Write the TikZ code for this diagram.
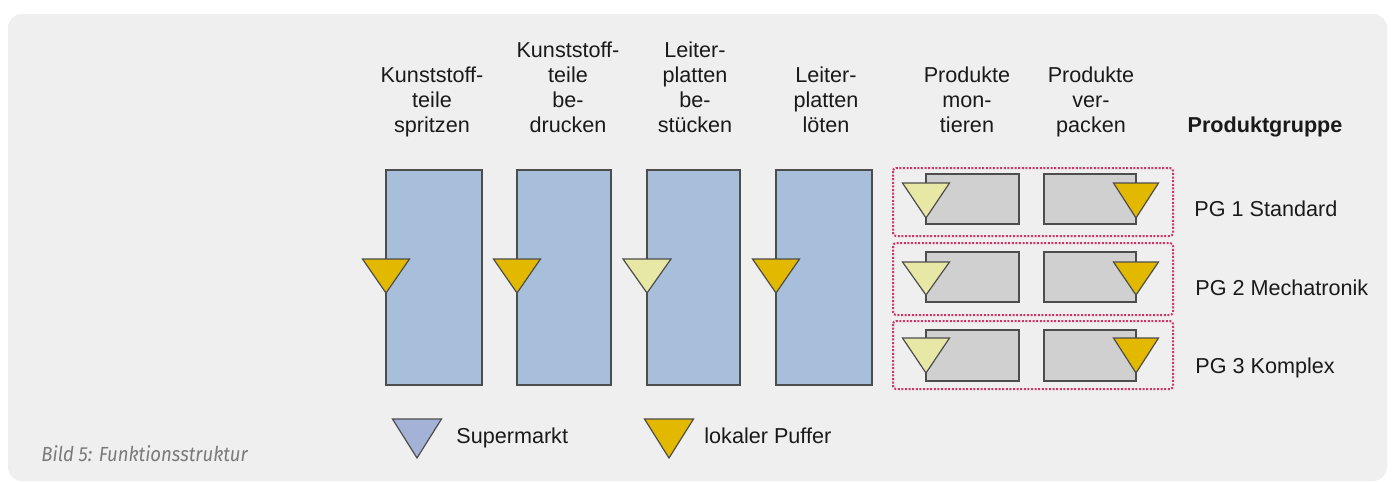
\documentclass[tikz,border=0pt]{standalone}
\usepackage{fontspec}
\setmainfont{Liberation Sans}
\newfontfamily\capfont{Fira Sans}
\definecolor{bgc}{HTML}{EFEFEF}
\definecolor{blueb}{HTML}{A7BFDA}
\definecolor{grayb}{HTML}{D0D0D0}
\definecolor{edgec}{HTML}{4D4D4D}
\definecolor{gold}{HTML}{E3B900}
\definecolor{paley}{HTML}{E8E8A6}
\definecolor{superm}{HTML}{A3B2D6}
\definecolor{dotc}{HTML}{D2336A}
\definecolor{capc}{HTML}{7A7A7A}
\definecolor{txt}{HTML}{1A1A1A}
\newcommand\buftri[5]{% fill, apex x, apex y, half width, height
  \filldraw[fill=#1, draw=edgec, line width=0.6pt, line join=miter]
    ({#2-#4},{#3-#5}) -- ({#2+#4},{#3-#5}) -- (#2,#3) -- cycle;}
\begin{document}
\begin{tikzpicture}[x=0.5pt,y=-0.5pt,
  lbl/.style={font=\fontsize{10.8}{12.5}\selectfont, text=txt, align=center, inner sep=0pt, anchor=south, text depth=2.5pt},
  pglbl/.style={font=\fontsize{10.8}{12.5}\selectfont, text=txt, inner sep=0pt, anchor=base west},
  colbox/.style={fill=blueb, draw=edgec, line width=0.7pt},
  prodbox/.style={fill=grayb, draw=edgec, line width=0.7pt},
  groupbox/.style={draw=dotc, line width=1pt, dash pattern=on 1pt off 0.8pt, rounded corners=1.5pt}]
\useasboundingbox (0,0) rectangle (1393,482);
\clip (0,0) rectangle (1393,482);
\fill[white] (0,0) rectangle (1393,482);
\fill[bgc, rounded corners=7pt] (8,14) rectangle (1387,481);

% column labels
\node[lbl] (c1) at (432,138) {Kunststoff-\\teile\\spritzen};
\node[lbl] (c2) at (568,138) {Kunststoff-\\teile\\be-\\drucken};
\node[lbl] (c3) at (695,138) {Leiter-\\platten\\be-\\stücken};
\node[lbl] (c4) at (826,138) {Leiter-\\platten\\löten};
\node[lbl] (c5) at (967,138) {Produkte\\mon-\\tieren};
\node[lbl] (c6) at (1091,138) {Produkte\\ver-\\packen};
\node[lbl, font=\fontsize{10.8}{12.5}\selectfont\bfseries] (pg) at (1265,138) {Produktgruppe};

% column boxes
\draw[colbox] (386,170) rectangle (482,385);
\draw[colbox] (517,170) rectangle (611,385);
\draw[colbox] (647,170) rectangle (740,385);
\draw[colbox] (776,170) rectangle (872,385);
\buftri{gold}{386}{293}{23.5}{34}
\buftri{gold}{517}{293}{23.5}{34}
\buftri{paley}{647}{293}{24}{34}
\buftri{gold}{776}{293}{23.5}{34}

% product groups
\draw[groupbox] (893,168) rectangle (1173,236);
\draw[groupbox] (893,243) rectangle (1173,315);
\draw[groupbox] (893,321) rectangle (1173,389);

\draw[prodbox] (926,174) rectangle (1019,224);
\draw[prodbox] (1044,174) rectangle (1136,224);
\draw[prodbox] (926,252) rectangle (1019,302);
\draw[prodbox] (1044,252) rectangle (1136,302);
\draw[prodbox] (926,330) rectangle (1019,381);
\draw[prodbox] (1044,330) rectangle (1136,381);

\buftri{paley}{926}{218}{23.5}{35}
\buftri{gold}{1136}{218}{22.5}{35}
\buftri{paley}{926}{295}{23.5}{33}
\buftri{gold}{1136}{295}{22.5}{33}
\buftri{paley}{926}{373}{23.5}{35}
\buftri{gold}{1136}{373}{22.5}{35}

\node[pglbl] (pg1) at (1194,216) {PG 1 Standard};
\node[pglbl] (pg2) at (1195,295) {PG 2 Mechatronik};
\node[pglbl] (pg3) at (1195,373) {PG 3 Komplex};

% legend
\buftri{superm}{417}{458}{24.5}{39}
\node[pglbl] (lg1) at (456,443) {Supermarkt};
\buftri{gold}{669}{458}{24.5}{39}
\node[pglbl] (lg2) at (704,443) {lokaler Puffer};

% caption
\node[inner sep=0pt, anchor=base west, text=capc, font=\capfont\itshape\fontsize{10.2}{12}\selectfont] (cap) at (41,461) {\scalebox{0.91}[1]{Bild 5: Funktionsstruktur}};
\end{tikzpicture}
\end{document}
